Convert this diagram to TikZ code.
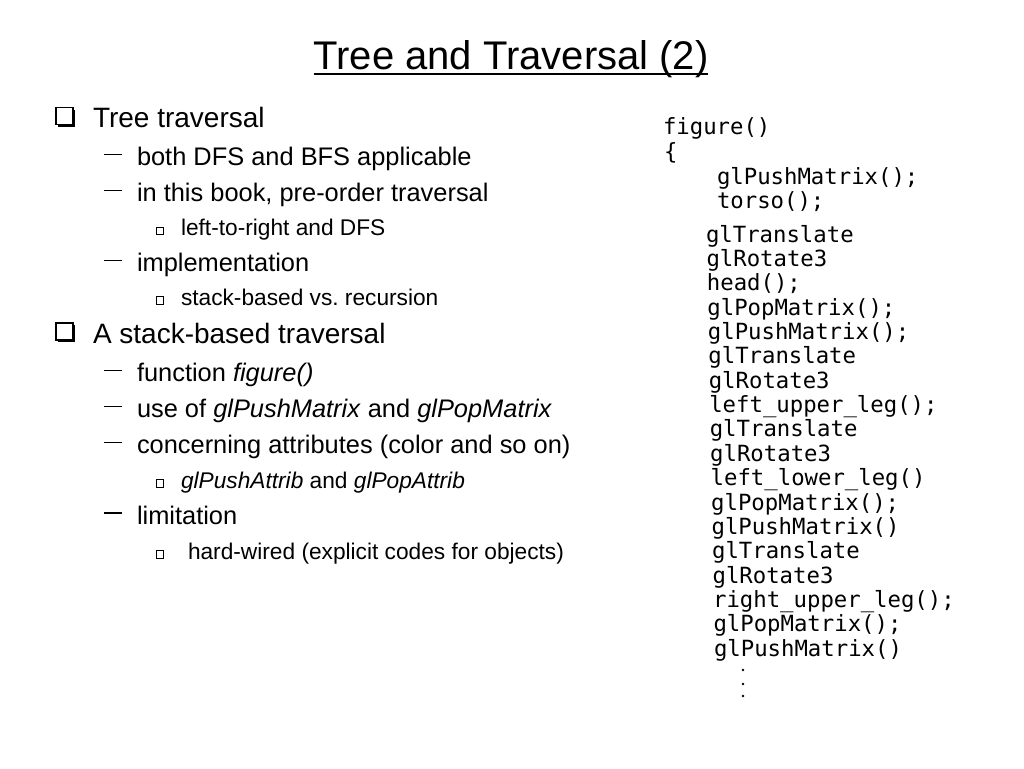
\documentclass[tikz,border=0pt]{standalone}
\usepackage{fontspec}
\setmainfont{Liberation Sans}
\newfontfamily\codefont{DejaVu Sans Mono}
\usetikzlibrary{shadows}
\frenchspacing
\tikzset{
  titletext/.style={anchor=base, inner sep=0pt, outer sep=0pt, font=\fontsize{40}{46}\selectfont},
  lvlone/.style={anchor=base west, inner sep=0pt, outer sep=0pt, font=\fontsize{28}{32}\selectfont},
  lvltwo/.style={anchor=base west, inner sep=0pt, outer sep=0pt, font=\fontsize{25.4}{30}\selectfont},
  lvlthree/.style={anchor=base west, inner sep=0pt, outer sep=0pt, font=\fontsize{22.7}{27}\selectfont},
  code/.style={anchor=mid west, inner sep=0pt, outer sep=0pt, font=\codefont\fontsize{22.3}{26}\selectfont},
  bigbox/.style={draw=black, line width=1.5pt, fill=white, minimum size=17pt, inner sep=0pt,
    drop shadow={shadow xshift=2.4pt, shadow yshift=-2.4pt, fill=black, opacity=1}},
  smallbox/.style={draw=black, line width=0.8pt, fill=white, minimum size=7.5pt, inner sep=0pt,
    drop shadow={shadow xshift=0.7pt, shadow yshift=-0.7pt, fill=black, opacity=1}},
  dashbullet/.style={fill=black, minimum width=18pt, minimum height=1.8pt, inner sep=0pt}
}
\begin{document}
\begin{tikzpicture}[x=1pt, y=-1pt]
\useasboundingbox[fill=white] (0,0) rectangle (1024,768);

% title
\node[titletext] (title) at (511,70) {Tree and Traversal (2)};
\draw[line width=2pt] ([yshift=-4.3pt]title.base west) -- ([yshift=-4.3pt]title.base east);

% ---- left column ----
\node[bigbox] (b1) at (64.5,116) {};
\node[lvlone] (t1) at (93,127.5) {Tree traversal};

\node[dashbullet] (d1) at (113.3,154.5) {};
\node[lvltwo] (t2) at (137,165.5) {both DFS and BFS applicable};

\node[dashbullet] (d2) at (113.3,190.5) {};
\node[lvltwo] (t3) at (137,201.5) {in this book, pre-order traversal};

\node[smallbox] (s1) at (160,231) {};
\node[lvlthree] (t4) at (181,235.5) {left-to-right and DFS};

\node[dashbullet] (d3) at (113.3,260.5) {};
\node[lvltwo] (t5) at (137,271.5) {implementation};

\node[smallbox] (s2) at (160,300.5) {};
\node[lvlthree] (t6) at (181,305) {stack-based vs. recursion};

\node[bigbox] (b2) at (64.5,331.5) {};
\node[lvlone] (t7) at (93,343) {A stack-based traversal};

\node[dashbullet] (d4) at (113.3,370.5) {};
\node[lvltwo] (t8) at (137,381.5) {function \textit{figure()}};

\node[dashbullet] (d5) at (113.3,406.5) {};
\node[lvltwo] (t9) at (137,417.5) {use of \textit{glPushMatrix} and \textit{glPopMatrix}};

\node[dashbullet] (d6) at (113.3,442.5) {};
\node[lvltwo] (t10) at (137,453.5) {concerning attributes (color and so on)};

\node[smallbox] (s3) at (160,483.5) {};
\node[lvlthree] (t11) at (181,488) {\textit{glPushAttrib} and \textit{glPopAttrib}};

\node[dashbullet] (d7) at (113.3,513) {};
\node[lvltwo] (t12) at (137,524) {limitation};

\node[smallbox] (s4) at (160,554.5) {};
\node[lvlthree] (t13) at (188,559) {hard-wired (explicit codes for objects)};

% ---- code listing ----
\begin{scope}[shift={(0,2.5)}]
\node[code] (c0) at (663,129) {figure()};
\node[code] (c1) at (664,154) {\{};
\node[code] (c2) at (717,179) {glPushMatrix();};
\node[code] (c3) at (717,203) {torso();};
\node[code] (c4) at (706.0,237.0) {glTranslate};
\node[code] (c5) at (706.5,261.4) {glRotate3};
\node[code] (c6) at (706.9,285.7) {head();};
\node[code] (c7) at (707.4,310.1) {glPopMatrix();};
\node[code] (c8) at (707.9,334.4) {glPushMatrix();};
\node[code] (c9) at (708.4,358.8) {glTranslate};
\node[code] (c10) at (708.8,383.1) {glRotate3};
\node[code] (c11) at (709.3,407.5) {left\_upper\_leg();};
\node[code] (c12) at (709.8,431.8) {glTranslate};
\node[code] (c13) at (710.2,456.2) {glRotate3};
\node[code] (c14) at (710.7,480.5) {left\_lower\_leg()};
\node[code] (c15) at (711.2,504.9) {glPopMatrix();};
\node[code] (c16) at (711.6,529.2) {glPushMatrix()};
\node[code] (c17) at (712.1,553.6) {glTranslate};
\node[code] (c18) at (712.6,577.9) {glRotate3};
\node[code] (c19) at (713.1,602.3) {right\_upper\_leg();};
\node[code] (c20) at (713.5,626.6) {glPopMatrix();};
\node[code] (c21) at (714.0,651.0) {glPushMatrix()};
\end{scope}
\fill (743,670) circle (1.3);
\fill (743,684) circle (1.3);
\fill (743,696) circle (1.3);
\end{tikzpicture}
\end{document}
